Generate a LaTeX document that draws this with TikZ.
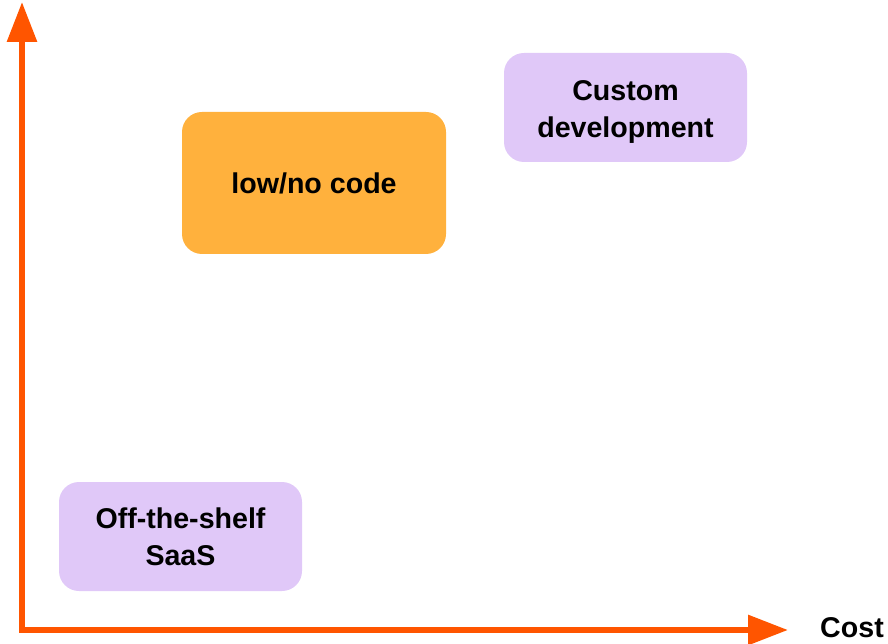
\documentclass[tikz,border=0pt]{standalone}
\usepackage{fontspec}
\setmainfont{Liberation Sans}
\usetikzlibrary{arrows.meta}
\definecolor{axisorange}{RGB}{255,85,0}
\definecolor{boxorange}{RGB}{255,177,61}
\definecolor{boxlilac}{RGB}{224,200,248}
\tikzset{
  axis/.style={line width=6pt, color=axisorange, line join=miter,
    {Triangle[length=40pt,width=29pt]}-{Triangle[length=40pt,width=29pt]}},
  option/.style={rounded corners=20pt, inner sep=0pt, align=center,
    font=\fontsize{28.6}{37}\selectfont\bfseries, text=black},
  label/.style={font=\fontsize{28.6}{37}\selectfont\bfseries, text=black}
}

\begin{document}
\begin{tikzpicture}[x=1pt, y=1pt]
			%%%%% START %%%%%
			\useasboundingbox (0, 0) rectangle (888, 643);
			
			\coordinate (origin) at (22, 13);
			\coordinate (ytip) at (22, 641);
			\coordinate (xtip) at (788, 13);
			\draw[axis] (ytip) -- (origin) -- (xtip);
			
			\node[label] (cost) at (852, 15) {Cost};
			
			\node[option, fill=boxorange, minimum width=264pt, minimum height=142pt] (lowcode) at (314, 460) {low/no code};
			\node[option, fill=boxlilac, minimum width=243pt, minimum height=109pt] (custom) at (625.5, 535.5) {\rule{0pt}{29pt}Custom\\development};
			\node[option, fill=boxlilac, minimum width=243pt, minimum height=109pt] (saas) at (180.5, 106.5) {Off-the-shelf\\SaaS};
			
			%%%%% END %%%%%
		\end{tikzpicture}
\end{document}
